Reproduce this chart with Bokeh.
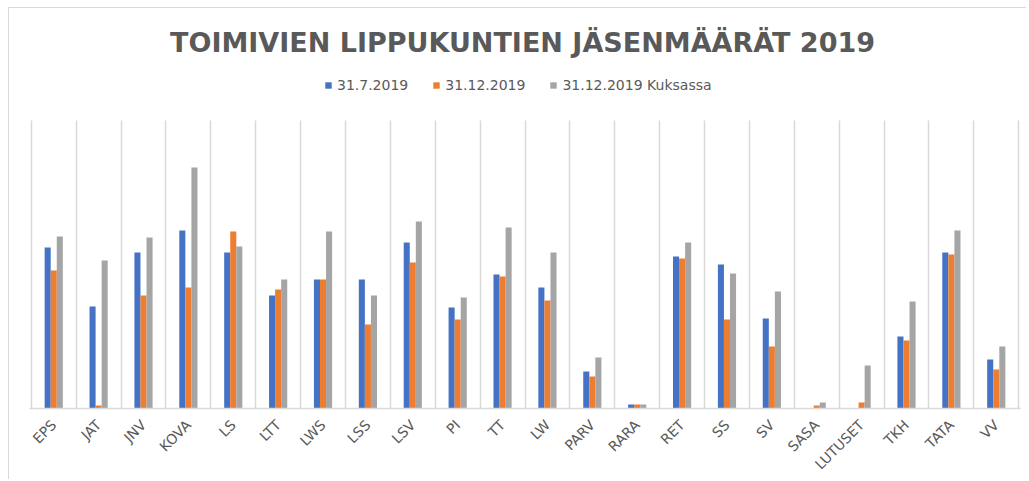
import math
from bokeh.plotting import figure
from bokeh.models import (ColumnDataSource, FixedTicker, Range1d, Legend, LegendItem, Label)
from bokeh.transform import dodge
from bokeh.embed import file_html
from bokeh.resources import INLINE

categories = ["EPS", "JAT", "JNV", "KOVA", "LS", "LTT", "LWS", "LSS", "LSV", "PI", "TT",
              "LW", "PARV", "RARA", "RET", "SS", "SV", "SASA", "LUTUSET", "TKH", "TATA", "VV"]
s_jul = [161, 102, 156, 178, 156, 113, 129, 129, 166, 101, 134,
         121, 37, 4, 152, 144, 90, 0, 0, 72, 156, 49]
s_dec = [138, 3, 113, 121, 177, 119, 129, 84, 146, 89, 132,
         108, 32, 4, 150, 89, 62, 3, 6, 68, 154, 39]
s_kuksa = [172, 148, 171, 241, 162, 129, 177, 113, 187, 111, 181,
           156, 51, 4, 166, 135, 117, 6, 43, 107, 178, 62]
series_names = ["31.7.2019", "31.12.2019", "31.12.2019 Kuksassa"]
colors = ["#4472C4", "#ED7D31", "#A5A5A5"]

n = len(categories)
src = ColumnDataSource(dict(x=[i + 0.5 for i in range(n)], a=s_jul, b=s_dec, c=s_kuksa))

AXIS_MAX = 288      # top of the value axis (gridline top)
FRAME_TOP = 400     # frame extends above the axis to hold title & legend
PAD = 0.04

p = figure(width=1018, height=472, output_backend="svg", toolbar_location=None,
           x_range=Range1d(-PAD, n + PAD), y_range=Range1d(0, FRAME_TOP),
           min_border_left=20, min_border_right=7, min_border_top=0, min_border_bottom=72)
p.styles = {"margin-left": "8px", "margin-top": "7px",
            "border-left": "1px solid #D9D9D9", "border-top": "1px solid #D9D9D9"}
p.outline_line_color = None
p.background_fill_color = "white"
p.border_fill_color = "white"

bw = 0.135
r1 = p.vbar(x=dodge("x", -bw, range=p.x_range), top="a", width=bw, source=src,
            fill_color=colors[0], line_color=None)
r2 = p.vbar(x=dodge("x", 0, range=p.x_range), top="b", width=bw, source=src,
            fill_color=colors[1], line_color=None)
r3 = p.vbar(x=dodge("x", bw, range=p.x_range), top="c", width=bw, source=src,
            fill_color=colors[2], line_color=None)

p.yaxis.visible = False
p.ygrid.visible = False
p.xgrid.ticker = FixedTicker(ticks=list(range(n + 1)))
p.xgrid.grid_line_color = "#D9D9D9"
p.xgrid.grid_line_width = 1.5
p.xgrid.cross_bounds = (0, AXIS_MAX)

xa = p.xaxis[0]
xa.ticker = FixedTicker(ticks=[i + 0.5 for i in range(n)])
xa.major_label_overrides = {i + 0.5: c for i, c in enumerate(categories)}
xa.major_label_orientation = math.pi / 4
xa.major_tick_line_color = None
xa.minor_tick_line_color = None
xa.axis_line_color = "#D9D9D9"
xa.axis_line_width = 1.5
xa.major_label_text_color = "#595959"
xa.major_label_text_font = "DejaVu Sans"
xa.major_label_text_font_size = "14px"
xa.major_label_standoff = 8

title = Label(x=n * (522 - 31) / 987, y=FRAME_TOP - 34,
              text="TOIMIVIEN LIPPUKUNTIEN JÄSENMÄÄRÄT 2019",
              text_align="center", text_baseline="middle",
              text_font="DejaVu Sans", text_font_style="bold", text_font_size="27px",
              text_color="#595959")
p.add_layout(title)

legend = Legend(items=[LegendItem(label=series_names[0], renderers=[r1]),
                       LegendItem(label=series_names[1], renderers=[r2]),
                       LegendItem(label=series_names[2], renderers=[r3])],
                location=(295, 315), orientation="horizontal",
                glyph_width=8, glyph_height=8, label_standoff=5, spacing=24,
                padding=0, margin=0, label_height=16,
                label_text_font="DejaVu Sans", label_text_font_size="14px",
                label_text_color="#595959",
                border_line_color=None, background_fill_alpha=0)
p.add_layout(legend, "center")

open("out.html", "w").write(file_html(p, INLINE))
